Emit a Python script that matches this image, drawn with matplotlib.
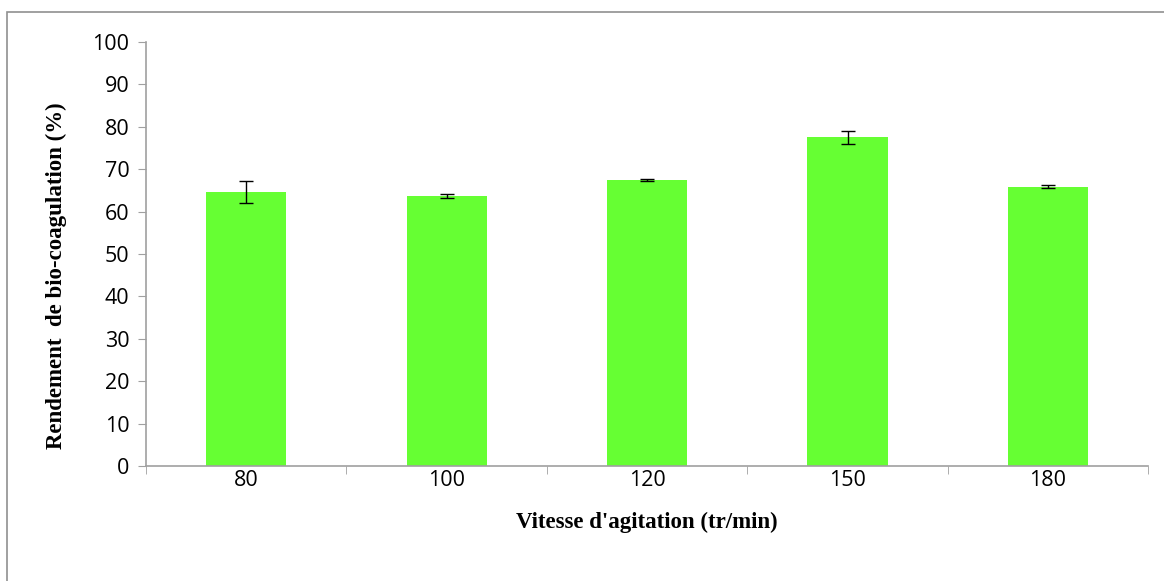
import numpy as np
import matplotlib.pyplot as plt
from matplotlib.patches import Rectangle

vitesse = ["80", "100", "120", "150", "180"]
rendement = [64.7, 63.7, 67.5, 77.5, 65.9]
erreur = [2.6, 0.5, 0.2, 1.5, 0.4]

fig = plt.figure(figsize=(11.64, 5.81), dpi=100)
ax = fig.add_axes([0.1254, 0.198, 0.861, 0.7297])

x = np.arange(len(vitesse))
ax.bar(x, rendement, width=0.4, color="#66ff33",
       yerr=erreur, capsize=5, error_kw=dict(ecolor="black", elinewidth=1, capthick=1))

ax.set_xlim(-0.5, len(vitesse) - 0.5)
ax.set_ylim(0, 100)
ax.set_yticks(range(0, 101, 10))
ax.set_xticks(x)
ax.set_xticklabels(vitesse)
ax.set_xticks(np.arange(-0.5, len(vitesse)), minor=True)
ax.tick_params(axis="x", which="major", length=0, pad=3)
ax.tick_params(axis="x", which="minor", length=6, color="#a0a0a0")
ax.tick_params(axis="y", length=6, color="#a0a0a0", pad=6)
for lab in ax.get_xticklabels() + ax.get_yticklabels():
    lab.set_fontfamily("Open Sans")
    lab.set_fontsize(15.5)

for s in ["top", "right"]:
    ax.spines[s].set_visible(False)
for s in ["left", "bottom"]:
    ax.spines[s].set_color("#a0a0a0")
    ax.spines[s].set_linewidth(1.2)

ax.set_xlabel("Vitesse d'agitation (tr/min)", fontfamily="Liberation Serif",
              fontweight="bold", fontsize=16.5, labelpad=15)
ax.set_ylabel("Rendement  de bio-coagulation (%)", fontfamily="Liberation Serif",
              fontweight="bold", fontsize=16.5)
ax.yaxis.set_label_coords(-0.079, 0.448)

fig.patches.append(Rectangle((7 / 1164, -0.01), 1.02, 1 - 12 / 581 + 0.01,
                             transform=fig.transFigure, fill=False,
                             edgecolor="#909090", linewidth=1.2))

fig.savefig("out.png", dpi=100)
